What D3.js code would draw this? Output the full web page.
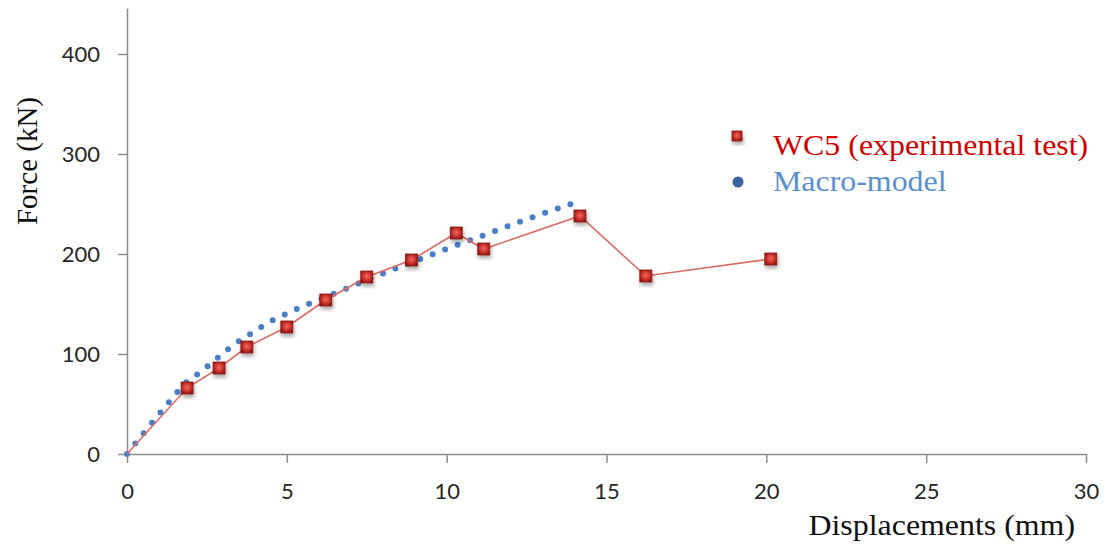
<!DOCTYPE html>
<html>
<head>
<meta charset="utf-8">
<script src="https://cdnjs.cloudflare.com/ajax/libs/d3/7.8.5/d3.min.js"></script>
<style>
  body { margin: 0; background: #fff; }
  svg { display: block; }
</style>
</head>
<body>
<svg id="chart"></svg>
<script>
// data (displacement mm, force kN)
var expDisp  = [1.88, 2.88, 3.75, 5.0, 6.22, 7.5, 8.9, 10.3, 11.16, 14.17, 16.23, 20.14];
var expForce = [66, 86, 107, 127, 154, 177, 194, 221, 205, 238, 178, 195];

var modelDisp  = [0, 0.88, 1.78, 2.34, 3.32, 4.44, 5.37, 6.38, 7.5, 8.44, 9.9, 10.93, 11.85, 12.87, 13.9];
var modelForce = [0, 35, 70, 83, 109, 132, 146, 159, 174, 186, 204, 216, 227, 239, 250];

var xTicks = [0, 5, 10, 15, 20, 25, 30];
var yTicks = [0, 100, 200, 300, 400];

var seriesNames = ["WC5 (experimental test)", "Macro-model"];

// set the dimensions and margins of the graph
var margin = {top: 8, right: 26, bottom: 95, left: 127},
    width = 1112 - margin.left - margin.right,
    height = 549 - margin.top - margin.bottom;

var x = d3.scaleLinear().domain([0, 30]).range([0, width]);
var y = d3.scaleLinear().domain([0, 446]).range([height, 0]);

var svg = d3.select("#chart")
    .attr("width", 1112)
    .attr("height", 549);

// marker gradient + shadow
var defs = svg.append("defs");
var grad = defs.append("radialGradient").attr("id", "redBox")
    .attr("cx", "50%").attr("cy", "45%").attr("r", "65%");
grad.append("stop").attr("offset", "0%").attr("stop-color", "#f06a60");
grad.append("stop").attr("offset", "55%").attr("stop-color", "#c8302a");
grad.append("stop").attr("offset", "100%").attr("stop-color", "#7a1010");

var shadow = defs.append("filter").attr("id", "shadow")
    .attr("x", "-50%").attr("y", "-50%").attr("width", "200%").attr("height", "200%");
shadow.append("feDropShadow").attr("dx", 1).attr("dy", 3).attr("stdDeviation", 2)
    .attr("flood-color", "#000").attr("flood-opacity", 0.35);

var g = svg.append("g")
    .attr("transform", "translate(" + margin.left + "," + margin.top + ")");

var tickFont = "Lato, 'Open Sans', sans-serif";
var serif = "'Liberation Serif', 'Times New Roman', serif";

// y axis
var yAxis = g.append("g")
    .call(d3.axisLeft(y).tickValues(yTicks).tickSize(9).tickSizeOuter(0));
yAxis.select(".domain").attr("stroke", "#8c8c8c").attr("stroke-width", 1.5);
yAxis.selectAll(".tick line").attr("stroke", "#8c8c8c").attr("stroke-width", 1.5);
yAxis.selectAll(".tick text")
    .attr("x", -27)
    .style("font-family", tickFont)
    .style("font-size", "22px")
    .attr("fill", "#262626");

// x axis
var xAxis = g.append("g")
    .attr("transform", "translate(0," + height + ")")
    .call(d3.axisBottom(x).tickValues(xTicks).tickSize(9).tickSizeOuter(0));
xAxis.select(".domain").attr("stroke", "#8c8c8c").attr("stroke-width", 1.5);
xAxis.selectAll(".tick line").attr("stroke", "#8c8c8c").attr("stroke-width", 1.5);
xAxis.selectAll(".tick text")
    .attr("y", 29)
    .style("font-family", tickFont)
    .style("font-size", "22px")
    .attr("fill", "#262626");

// axis titles (the original text is a little wider than tall, so stretch it)
svg.append("text")
    .attr("transform", "translate(37,161) rotate(-90)")
    .style("text-anchor", "middle")
    .style("font-family", serif)
    .style("font-size", "29px")
    .attr("fill", "#111")
    .text("Force (kN)");

svg.append("text")
    .attr("transform", "translate(1075,535) scale(1.1,1)")
    .style("text-anchor", "end")
    .style("font-family", serif)
    .style("font-size", "29px")
    .attr("fill", "#111")
    .text("Displacements (mm)");

// macro-model dotted line
var modelData = modelDisp.map(function(d, i) { return {x: d, y: modelForce[i]}; });
var line = d3.line()
    .x(function(d) { return x(d.x); })
    .y(function(d) { return y(d.y); });

var modelPath = g.append("path")
    .datum(modelData)
    .attr("fill", "none")
    .attr("stroke", "#4a7fc6")
    .attr("stroke-width", 6)
    .attr("stroke-linecap", "round")
    .attr("d", line);
// spread the dots so one lands near each end
var len = modelPath.node().getTotalLength();
var n = Math.round(len / 13.5);
var gap = (len - 1) / n;
modelPath.attr("stroke-dasharray", "0 " + gap);

// experimental line (starts at origin)
var expData = [{x: 0, y: 0}].concat(expDisp.map(function(d, i) { return {x: d, y: expForce[i]}; }));
g.append("path")
    .datum(expData)
    .attr("fill", "none")
    .attr("stroke", "#dd6b66")
    .attr("stroke-width", 1.6)
    .attr("d", line);

// experimental markers
var ms = 12;
g.selectAll("rect.exp")
    .data(expData.slice(1))
    .enter().append("rect")
    .attr("class", "exp")
    .attr("x", function(d) { return x(d.x) - ms / 2; })
    .attr("y", function(d) { return y(d.y) - ms / 2; })
    .attr("width", ms).attr("height", ms)
    .attr("fill", "url(#redBox)")
    .attr("stroke", "#8a1a18")
    .attr("stroke-width", 0.8)
    .attr("filter", "url(#shadow)");

// legend
var legend = svg.append("g");
legend.append("rect")
    .attr("x", 732).attr("y", 131).attr("width", 10).attr("height", 10)
    .attr("fill", "url(#redBox)")
    .attr("stroke", "#8a1a18").attr("stroke-width", 0.8)
    .attr("filter", "url(#shadow)");
legend.append("circle")
    .attr("cx", 738).attr("cy", 182).attr("r", 5.5)
    .attr("fill", "#3c64a0");

legend.append("text")
    .attr("transform", "translate(773,155) scale(1.1,1)")
    .style("font-family", serif)
    .style("font-size", "29px")
    .attr("fill", "#d40000")
    .text(seriesNames[0]);
legend.append("text")
    .attr("transform", "translate(773,191) scale(1.1,1)")
    .style("font-family", serif)
    .style("font-size", "29px")
    .attr("fill", "#5b8fd4")
    .text(seriesNames[1]);
</script>
</body>
</html>
